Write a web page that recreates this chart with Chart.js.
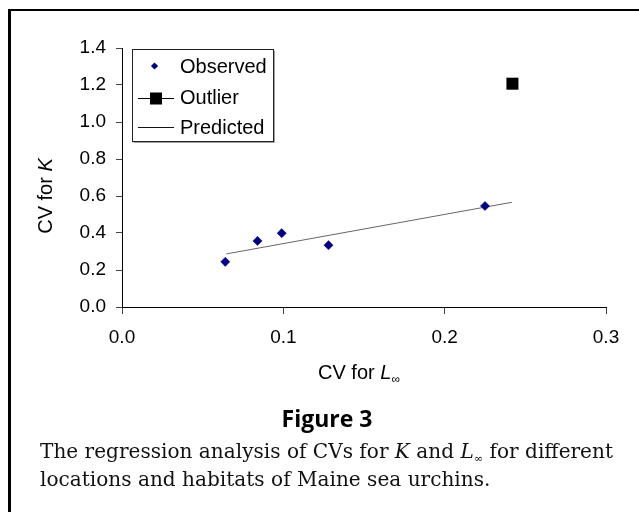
<!DOCTYPE html>
<html>
<head>
<meta charset="utf-8">
<script src="https://cdn.jsdelivr.net/npm/chart.js@4/dist/chart.umd.min.js"></script>
<style>
html,body{margin:0;padding:0;background:#fff;}
#wrap{position:relative;width:639px;height:512px;overflow:hidden;background:#fff;}
#frame{position:absolute;left:8px;top:9px;width:700px;height:600px;border-left:3px solid #000;border-top:2.5px solid #000;box-sizing:border-box;}
canvas{position:absolute;left:0;top:0;}
.t{position:absolute;white-space:nowrap;color:#000;}
#ytitle{font-family:'Liberation Sans',Arial,sans-serif;font-size:20px;line-height:22px;left:45px;top:196px;transform:translate(-50%,-50%) rotate(-90deg);}
#xtitle{font-family:'Liberation Sans',Arial,sans-serif;font-size:20px;line-height:22px;left:318px;top:361px;}
#xtitle .sub{font-size:12px;position:relative;top:4px;}
#fig{font-family:'Open Sans',sans-serif;font-weight:bold;font-size:23px;line-height:31px;left:177px;width:300px;text-align:center;top:403px;}
#cap{font-family:'DejaVu Serif',serif;font-size:19.5px;line-height:25.7px;left:40px;top:438.5px;transform-origin:0 0;color:#111;}
#cap .sub{font-size:11px;position:relative;top:4px;}
#cap span.line{display:inline-block;}
</style>
</head>
<body>
<div id="wrap">
  <canvas id="c" width="639" height="512"></canvas>
  <div id="frame"></div>
  <div class="t" id="ytitle">CV for <i>K</i></div>
  <div class="t" id="xtitle">CV for <i>L</i><span class="sub">∞</span></div>
  <div class="t" id="fig">Figure 3</div>
  <div class="t" id="cap"><span class="line" id="l1">The regression analysis of CVs for <i>K</i> and <i>L</i><span class="sub">∞</span> for different</span><br><span class="line">locations and habitats of Maine sea urchins.</span></div>
</div>
<script>
// ---- data ----
const xTicks = [0, 0.1, 0.2, 0.3];
const yTicks = [0, 0.2, 0.4, 0.6, 0.8, 1.0, 1.2, 1.4];
const observedX = [0.064, 0.084, 0.099, 0.128, 0.225];
const observedY = [0.244, 0.357, 0.399, 0.334, 0.546];
const outlierX = [0.242];
const outlierY = [1.207];
const predictedX = [0.0647, 0.2416];
const predictedY = [0.287, 0.566];
const seriesNames = ['Observed', 'Outlier', 'Predicted'];

const toPts = (xs, ys) => xs.map((x, i) => ({x: x, y: ys[i]}));

const legendPlugin = {
  id: 'boxLegend',
  afterDraw(chart) {
    const ctx = chart.ctx;
    const ds = chart.data.datasets;
    ctx.save();
    // box
    ctx.fillStyle = '#fff';
    ctx.fillRect(132.5, 49.5, 141, 92);
    ctx.strokeStyle = '#a0a0a0';
    ctx.lineWidth = 1;
    ctx.beginPath();
    ctx.moveTo(274.5, 50.5); ctx.lineTo(274.5, 142.5); ctx.lineTo(133.5, 142.5);
    ctx.stroke();
    ctx.strokeStyle = '#222';
    ctx.strokeRect(132.5, 49.5, 141, 92);
    ctx.font = '20px "Liberation Sans", Arial, sans-serif';
    ctx.textBaseline = 'alphabetic';
    ctx.textAlign = 'left';
    const rows = [73, 104, 134];
    // row 1 observed marker
    ctx.fillStyle = ds[0].pointBackgroundColor;
    ctx.beginPath();
    ctx.moveTo(154.5, 62.4); ctx.lineTo(158.1, 66); ctx.lineTo(154.5, 69.6); ctx.lineTo(150.9, 66); ctx.closePath();
    ctx.fill();
    // row 2 outlier
    ctx.strokeStyle = '#000'; ctx.lineWidth = 1;
    ctx.beginPath(); ctx.moveTo(138, 98.5); ctx.lineTo(174, 98.5); ctx.stroke();
    ctx.fillStyle = ds[1].pointBackgroundColor;
    ctx.fillRect(150, 92.5, 12, 12);
    // row 3 predicted
    ctx.strokeStyle = '#111';
    ctx.beginPath(); ctx.moveTo(138, 127.5); ctx.lineTo(174, 127.5); ctx.stroke();
    ctx.fillStyle = '#000';
    seriesNames.forEach((n, i) => ctx.fillText(n, 180, rows[i]));
    ctx.restore();
  }
};

const tickFont = {family: "'Liberation Sans', Arial, sans-serif", size: 19};

new Chart(document.getElementById('c'), {
  type: 'scatter',
  data: {
    datasets: [
      {label: seriesNames[0], data: toPts(observedX, observedY), pointStyle: 'rectRot',
       pointRadius: 4.6, pointBackgroundColor: '#000080', pointBorderColor: '#000080', pointBorderWidth: 0.5, showLine: false},
      {label: seriesNames[1], data: toPts(outlierX, outlierY), pointStyle: 'rect',
       pointRadius: 8.5, pointBackgroundColor: '#000', pointBorderColor: '#000', pointBorderWidth: 0, showLine: false},
      {label: seriesNames[2], data: toPts(predictedX, predictedY), showLine: true, pointRadius: 0,
       borderColor: '#666', borderWidth: 1, fill: false}
    ]
  },
  options: {
    responsive: false,
    animation: false,
    devicePixelRatio: 1,
    layout: {padding: {left: 0, top: 48, right: 33, bottom: 0}},
    plugins: {legend: {display: false}, tooltip: {enabled: false}, title: {display: false}},
    scales: {
      x: {
        type: 'linear', min: 0, max: 0.3,
        afterBuildTicks: s => { s.ticks = xTicks.map(v => ({value: v})); },
        afterFit: s => { s.height = 205; },
        ticks: {font: tickFont, color: '#000', padding: 12, callback: v => Number(v).toFixed(1)},
        grid: {display: true, drawOnChartArea: false, drawTicks: true, tickLength: 7, color: '#444', lineWidth: 1},
        border: {display: true, color: '#000', width: 1}
      },
      y: {
        type: 'linear', min: 0, max: 1.4,
        afterBuildTicks: s => { s.ticks = yTicks.map(v => ({value: v})); },
        afterFit: s => { s.width = 122; },
        ticks: {font: tickFont, color: '#000', padding: 10, callback: v => Number(v).toFixed(1)},
        grid: {display: true, drawOnChartArea: false, drawTicks: true, tickLength: 6, color: '#444', lineWidth: 1},
        border: {display: true, color: '#000', width: 1}
      }
    }
  },
  plugins: [legendPlugin]
});

function fitCap() {
  const cap = document.getElementById('cap');
  const l1 = document.getElementById('l1');
  cap.style.transform = 'none';
  const w = l1.getBoundingClientRect().width;
  if (w > 0) cap.style.transform = 'scaleX(' + (573 / w) + ')';
}
fitCap();
if (document.fonts && document.fonts.ready) document.fonts.ready.then(fitCap);
</script>
</body>
</html>
